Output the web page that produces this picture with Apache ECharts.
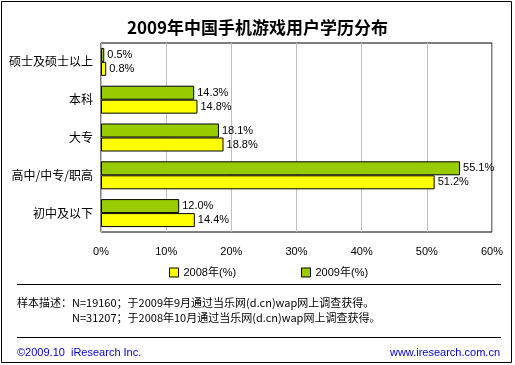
<!DOCTYPE html>
<html><head><meta charset="utf-8">
<script src="https://cdn.jsdelivr.net/npm/echarts@6/dist/echarts.min.js"></script>
<style>html,body{margin:0;padding:0;background:#fff;}#c{width:515px;height:365px;}</style>
</head><body><div id="c"></div>
<script>
const categories = ['硕士及硕士以上', '本科', '大专', '高中/中专/职高', '初中及以下'];
const values2008 = [0.8, 14.8, 18.8, 51.2, 14.4];
const values2009 = [0.5, 14.3, 18.1, 55.1, 12.0];
const xTicks = [0, 10, 20, 30, 40, 50, 60];
const seriesNames = ['2008年(%)', '2009年(%)'];
const title = '2009年中国手机游戏用户学历分布';
const note1 = '样本描述：N=19160；于2009年9月通过当乐网(d.cn)wap网上调查获得。';
const note2 = 'N=31207；于2008年10月通过当乐网(d.cn)wap网上调查获得。';
const footLeft = '©2009.10  iResearch Inc.';
const footRight = 'www.iresearch.com.cn';

const F = '"Liberation Sans", "Noto Sans CJK SC", sans-serif';
const chart = echarts.init(document.getElementById('c'));
const lbl = {show: true, position: 'right', distance: 3, color: '#000', fontSize: 11, fontFamily: F, formatter: p => p.value.toFixed(1) + '%'};
const legText = {fontSize: 11, fontFamily: F, color: '#000'};
const legItem = {borderColor: '#000', borderWidth: 1};
chart.setOption({
  animation: false,
  title: {text: title, left: 'center', top: 14, textStyle: {fontSize: 17, fontWeight: 'bold', color: '#000', fontFamily: '"Noto Sans CJK SC", sans-serif'}},
  grid: {left: 101, top: 43, width: 391, height: 189, show: true, borderColor: '#000', borderWidth: 1, backgroundColor: 'transparent'},
  legend: [
    {data: [seriesNames[0]], icon: 'rect', left: 164, top: 262, itemWidth: 9, itemHeight: 9, itemStyle: legItem, textStyle: legText},
    {data: [seriesNames[1]], icon: 'rect', left: 296, top: 262, itemWidth: 9, itemHeight: 9, itemStyle: legItem, textStyle: legText}
  ],
  xAxis: {type: 'value', min: xTicks[0], max: xTicks[xTicks.length - 1], interval: 10,
    axisLine: {show: false}, axisTick: {show: false},
    splitLine: {lineStyle: {color: '#c0c0c0', width: 1}},
    axisLabel: {margin: 14, fontSize: 11, fontFamily: F, color: '#000', formatter: v => v + '%'}},
  yAxis: {type: 'category', data: categories, inverse: true,
    axisLine: {show: false}, axisTick: {show: false},
    axisLabel: {margin: 8, fontSize: 12, fontFamily: '"Noto Sans CJK SC", sans-serif', color: '#000'}},
  series: [
    {name: seriesNames[1], type: 'bar', data: values2009, barGap: '0%', barCategoryGap: '26%',
     itemStyle: {color: '#99cc00', borderColor: '#000', borderWidth: 1}, label: lbl},
    {name: seriesNames[0], type: 'bar', data: values2008, barGap: '0%', barCategoryGap: '26%',
     itemStyle: {color: '#ffff00', borderColor: '#000', borderWidth: 1}, label: lbl}
  ],
  graphic: [
    {type: 'rect', shape: {x: 1.5, y: 1.5, width: 510, height: 361}, style: {fill: 'none', stroke: '#000', lineWidth: 1}},
    {type: 'line', shape: {x1: 17, y1: 284.5, x2: 501, y2: 284.5}, style: {stroke: '#000', lineWidth: 1}},
    {type: 'line', shape: {x1: 17, y1: 337.5, x2: 501, y2: 337.5}, style: {stroke: '#000', lineWidth: 1}},
    {type: 'text', left: 17, top: 297, style: {text: note1, fontSize: 11, fontFamily: '"Noto Sans CJK SC", sans-serif', fill: '#000'}},
    {type: 'text', left: 72, top: 312, style: {text: note2, fontSize: 11, fontFamily: '"Noto Sans CJK SC", sans-serif', fill: '#000'}},
    {type: 'text', left: 17, top: 347, style: {text: footLeft, fontSize: 11, fontFamily: F, fill: '#0000cc'}},
    {type: 'text', right: 15, top: 347, style: {text: footRight, fontSize: 11, fontFamily: F, fill: '#0000cc'}}
  ]
});
</script></body></html>
